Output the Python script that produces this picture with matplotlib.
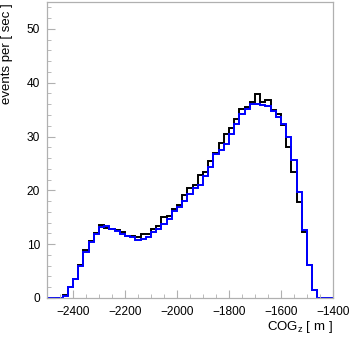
#!/usr/bin/env python3
"""
COG_z distribution: two overlaid step histograms (black and blue).
"""

import numpy as np
import matplotlib.pyplot as plt
from matplotlib.ticker import MultipleLocator

plt.rcParams['font.family'] = ['Liberation Sans', 'DejaVu Sans']
plt.rcParams['mathtext.fontset'] = 'custom'
plt.rcParams['mathtext.rm'] = 'Liberation Sans'
plt.rcParams['mathtext.it'] = 'Liberation Sans'

# Bin edges, 20 m wide, from -2500 to -1400
bin_edges = np.arange(-2500, -1399, 20)

# Events per sec, black histogram
black_counts = [
    0, 0, 0, 0.5, 2.0, 3.6, 6.2, 8.9, 10.5, 12.0,
    13.5, 13.0, 12.8, 12.6, 12.2, 11.6, 11.5, 11.4, 11.8, 11.8,
    12.8, 13.3, 15.0, 15.2, 16.6, 17.2, 19.1, 20.5, 21.0, 22.8,
    23.4, 25.4, 26.9, 28.8, 30.5, 31.5, 33.3, 35.1, 35.4, 36.4,
    37.9, 36.4, 36.7, 34.9, 34.2, 32.1, 28.0, 23.4, 17.8, 12.3,
    6.1, 1.4, 0, 0, 0,
]

# Events per sec, blue histogram
blue_counts = [
    0, 0, 0, 0.4, 2.0, 3.6, 5.9, 8.6, 10.4, 11.8,
    13.2, 13.3, 12.8, 12.5, 11.9, 11.5, 11.3, 10.8, 11.0, 11.3,
    12.3, 12.9, 13.8, 14.6, 16.2, 17.0, 18.1, 19.3, 20.4, 21.0,
    22.7, 24.4, 26.8, 27.5, 28.6, 30.5, 32.3, 34.2, 35.2, 36.0,
    36.0, 35.9, 35.7, 34.8, 33.7, 32.3, 29.9, 25.6, 19.7, 12.7,
    6.1, 1.4, 0, 0, 0,
]


def main():
    fig = plt.figure(figsize=(3.49, 3.39), dpi=100)
    ax = fig.add_axes([47 / 349, 1 - 298 / 339, 286 / 349, 296 / 339])

    ax.stairs(black_counts, bin_edges, color='black', linewidth=1.4, clip_on=False)
    ax.stairs(blue_counts, bin_edges, color='#0000ff', linewidth=1.4, clip_on=False)

    ax.set_xlim(-2500, -1400)
    ax.set_ylim(0, 55)

    ax.xaxis.set_major_locator(MultipleLocator(200))
    ax.xaxis.set_minor_locator(MultipleLocator(50))
    ax.yaxis.set_major_locator(MultipleLocator(10))
    ax.yaxis.set_minor_locator(MultipleLocator(2))

    for side in ['left', 'bottom', 'right', 'top']:
        ax.spines[side].set_color('#b0b0b0')
        ax.spines[side].set_linewidth(0.9)

    ax.tick_params(which='both', direction='in', color='#b0b0b0',
                   top=False, right=False, labelsize=8.6)
    ax.tick_params(axis='y', pad=5)
    ax.tick_params(axis='x', pad=6)
    ax.tick_params(which='major', length=6)
    ax.tick_params(which='minor', length=3)

    fig.text(7 / 349, 1 - 3 / 339, 'events per [ sec ]', rotation=90,
             ha='center', va='top', fontsize=9.5)
    fig.text(333 / 349, 1 - 327 / 339, r'COG$_\mathregular{z}$ [ m ]',
             ha='right', va='center', fontsize=9.5)

    fig.savefig('out.png', dpi=100)
    plt.close(fig)


if __name__ == '__main__':
    main()
